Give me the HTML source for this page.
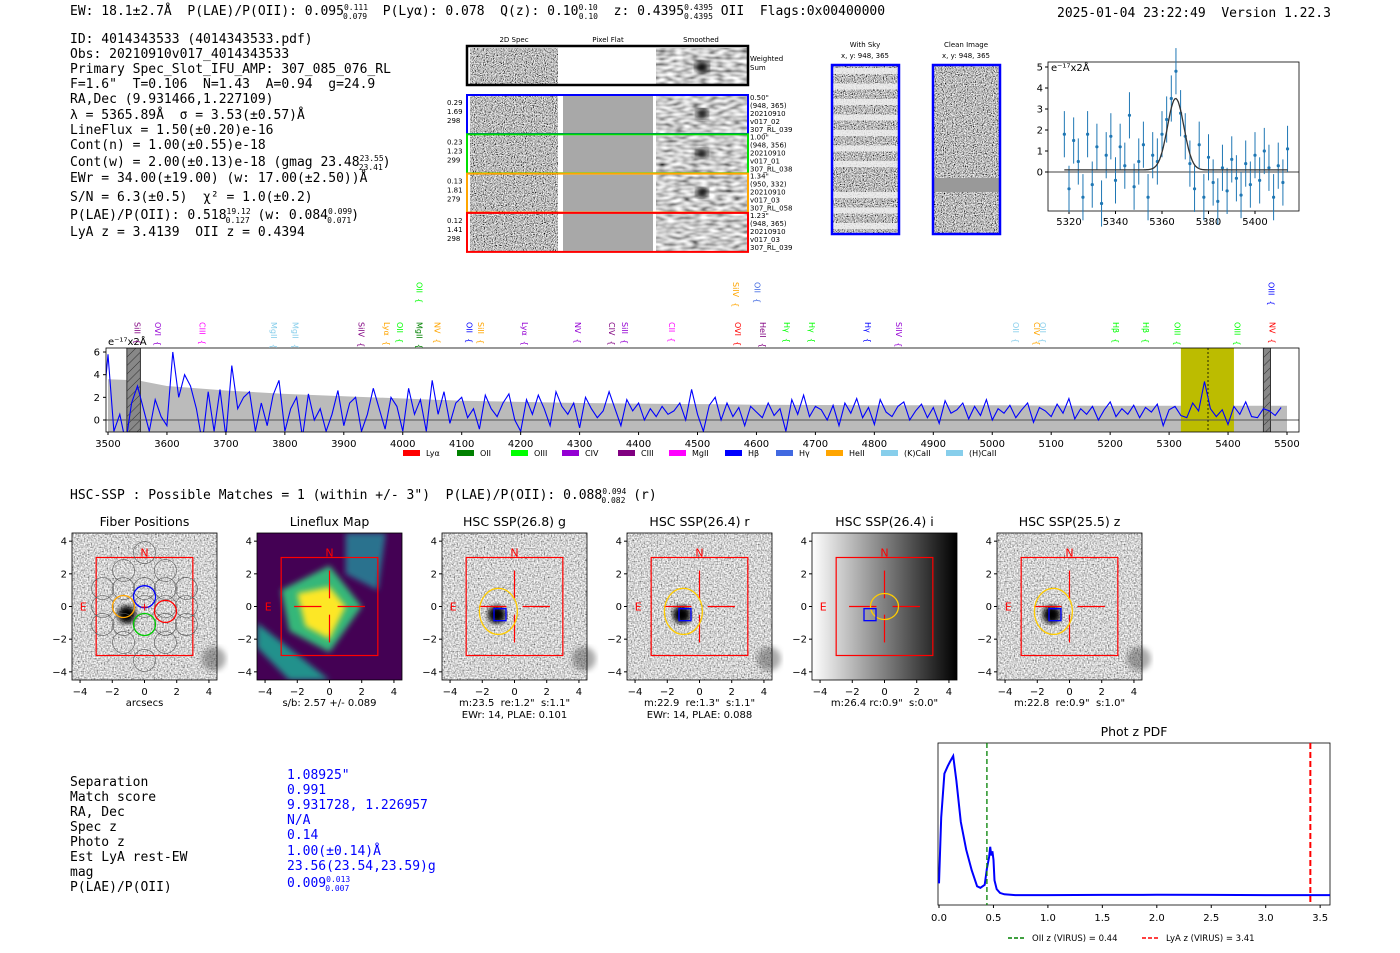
<!DOCTYPE html>
<html><head><meta charset="utf-8">
<style>
html,body{margin:0;padding:0;background:#fff;}
svg{display:block;font-family:"DejaVu Sans","Liberation Sans",sans-serif;}
text{white-space:pre;}
.mono{font-family:"DejaVu Sans Mono","Liberation Mono",monospace;font-size:13px;fill:#000;}
.tk{font-size:10px;fill:#000;}
.sm{font-size:7px;fill:#000;}
</style></head>
<body>
<svg id="fig" width="1400" height="953" viewBox="0 0 1400 953" xml:space="preserve">
<defs>
<filter id="gnoise" x="0" y="0" width="100%" height="100%"><feTurbulence type="fractalNoise" baseFrequency="0.9" numOctaves="1" seed="7" result="t"/><feColorMatrix in="t" type="saturate" values="0"/><feComponentTransfer><feFuncR type="linear" slope="3" intercept="-1"/><feFuncG type="linear" slope="3" intercept="-1"/><feFuncB type="linear" slope="3" intercept="-1"/><feFuncA type="table" tableValues="1 1"/></feComponentTransfer></filter>
<filter id="inoise" x="0" y="0" width="100%" height="100%"><feTurbulence type="fractalNoise" baseFrequency="0.7" numOctaves="1" seed="5" result="t"/><feColorMatrix in="t" type="saturate" values="0"/><feComponentTransfer><feFuncR type="linear" slope="2.2" intercept="-0.45"/><feFuncG type="linear" slope="2.2" intercept="-0.45"/><feFuncB type="linear" slope="2.2" intercept="-0.45"/><feFuncA type="table" tableValues="1 1"/></feComponentTransfer></filter>
<filter id="snoise" x="0" y="0" width="100%" height="100%"><feTurbulence type="fractalNoise" baseFrequency="0.12 0.3" numOctaves="1" seed="11" result="t"/><feColorMatrix in="t" type="saturate" values="0"/><feComponentTransfer><feFuncR type="linear" slope="2" intercept="-0.4"/><feFuncG type="linear" slope="2" intercept="-0.4"/><feFuncB type="linear" slope="2" intercept="-0.4"/><feFuncA type="table" tableValues="1 1"/></feComponentTransfer></filter>
<filter id="blur4"><feGaussianBlur stdDeviation="3"/></filter>
<filter id="blur8"><feGaussianBlur stdDeviation="7"/></filter>
<pattern id="hatch" width="6" height="6" patternUnits="userSpaceOnUse" patternTransform="rotate(45)"><rect width="6" height="6" fill="#888"/><line x1="0" y1="0" x2="0" y2="6" stroke="#333" stroke-width="1"/></pattern>
<linearGradient id="grad-i" x1="0" x2="1" y1="0" y2="0"><stop offset="0" stop-color="#fff"/><stop offset="1" stop-color="#000"/></linearGradient>
</defs>

<text class="mono" x="70" y="15">EW: 18.1±2.7Å  P(LAE)/P(OII): 0.095<tspan font-size="8" dy="-5">0.111</tspan><tspan font-size="8" dx="-25" dy="9">0.079</tspan><tspan dy="-4">  P(Lyα): 0.078  Q(z): 0.10</tspan><tspan font-size="8" dy="-5">0.10</tspan><tspan font-size="8" dx="-19" dy="9">0.10</tspan><tspan dy="-4">  z: 0.4395</tspan><tspan font-size="8" dy="-5">0.4395</tspan><tspan font-size="8" dx="-29" dy="9">0.4395</tspan><tspan dy="-4"> OII  Flags:0x00400000</tspan></text>
<text class="mono" x="1057" y="17">2025-01-04 23:22:49  Version 1.22.3</text>

<g class="mono">
<text x="70" y="43">ID: 4014343533 (4014343533.pdf)</text>
<text x="70" y="58">Obs: 20210910v017_4014343533</text>
<text x="70" y="73">Primary Spec_Slot_IFU_AMP: 307_085_076_RL</text>
<text x="70" y="88">F=1.6"  T=0.106  N=1.43  A=0.94  g=24.9</text>
<text x="70" y="103">RA,Dec (9.931466,1.227109)</text>
<text x="70" y="119">λ = 5365.89Å  σ = 3.53(±0.57)Å</text>
<text x="70" y="134">LineFlux = 1.50(±0.20)e-16</text>
<text x="70" y="149">Cont(n) = 1.00(±0.55)e-18</text>
<text x="70" y="166">Cont(w) = 2.00(±0.13)e-18 (gmag 23.48<tspan font-size="8" dy="-5">23.55</tspan><tspan font-size="8" dx="-25" dy="9">23.41</tspan><tspan dy="-4">)</tspan></text>
<text x="70" y="182">EWr = 34.00(±19.00) (w: 17.00(±2.50))Å</text>
<text x="70" y="201">S/N = 6.3(±0.5)  χ² = 1.0(±0.2)</text>
<text x="70" y="219">P(LAE)/P(OII): 0.518<tspan font-size="8" dy="-5">19.12</tspan><tspan font-size="8" dx="-25" dy="9">0.127</tspan><tspan dy="-4"> (w: 0.084</tspan><tspan font-size="8" dy="-5">0.099</tspan><tspan font-size="8" dx="-25" dy="9">0.071</tspan><tspan dy="-4">)</tspan></text>
<text x="70" y="236">LyA z = 3.4139  OII z = 0.4394</text>
</g>

<g>
<text class="sm" x="514" y="42" text-anchor="middle">2D Spec</text>
<text class="sm" x="608" y="42" text-anchor="middle">Pixel Flat</text>
<text class="sm" x="701" y="42" text-anchor="middle">Smoothed</text>
<rect x="470" y="48" width="88" height="36" fill="#888" filter="url(#gnoise)"/>
<rect x="656" y="48" width="92" height="36" fill="#777" filter="url(#snoise)"/>
<ellipse cx="702" cy="67" rx="7" ry="6" fill="#111" filter="url(#blur4)"/>
<rect x="467" y="46" width="281" height="39" fill="none" stroke="#000" stroke-width="2.5"/>
<text class="sm" x="750" y="61">Weighted</text><text class="sm" x="750" y="70">Sum</text>
<g id="rows"></g>
</g>

<g>
<text class="sm" x="865" y="47" text-anchor="middle" font-size="9">With Sky</text>
<text class="sm" x="865" y="58" text-anchor="middle" font-size="9">x, y: 948, 365</text>
<rect x="832" y="65" width="67" height="169" fill="#888" filter="url(#gnoise)"/>
<g id="skystripes"></g>
<rect x="832" y="65" width="67" height="169" fill="none" stroke="#00f" stroke-width="2.5"/>
</g>
<g>
<text class="sm" x="966" y="47" text-anchor="middle" font-size="9">Clean Image</text>
<text class="sm" x="966" y="58" text-anchor="middle" font-size="9">x, y: 948, 365</text>
<rect x="933" y="65" width="67" height="169" fill="#888" filter="url(#gnoise)"/>
<rect x="933" y="178" width="67" height="14" fill="#999"/>
<rect x="933" y="65" width="67" height="169" fill="none" stroke="#00f" stroke-width="2.5"/>
</g>

<g id="linefit"></g>
<g id="spec"></g>

<text class="mono" x="70" y="499">HSC-SSP : Possible Matches = 1 (within +/- 3")  P(LAE)/P(OII): 0.088<tspan font-size="8" dy="-5">0.094</tspan><tspan font-size="8" dx="-25" dy="9">0.082</tspan><tspan dy="-4"> (r)</tspan></text>

<g id="panels"></g>

<g class="mono">
<text x="70" y="786">Separation</text><text x="70" y="801">Match score</text><text x="70" y="816">RA, Dec</text><text x="70" y="831">Spec z</text><text x="70" y="846">Photo z</text><text x="70" y="861">Est LyA rest-EW</text><text x="70" y="876">mag</text><text x="70" y="891">P(LAE)/P(OII)</text>
</g>
<g class="mono">
<text x="287" y="779" fill="#00f">1.08925"</text><text x="287" y="794" fill="#00f">0.991</text><text x="287" y="809" fill="#00f">9.931728, 1.226957</text><text x="287" y="824" fill="#00f">N/A</text><text x="287" y="839" fill="#00f">0.14</text><text x="287" y="855" fill="#00f">1.00(±0.14)Å</text><text x="287" y="870" fill="#00f">23.56(23.54,23.59)g</text><text x="287" y="887" fill="#00f">0.009<tspan font-size="8" dy="-5">0.013</tspan><tspan font-size="8" dx="-25" dy="9">0.007</tspan></text>
</g>

<g id="pdf"></g>

<script>
const specWaveStart = 3490, specWaveStep = 10;
const specFlux = [0,5.8,-1,0.5,-2,1.5,3,1,-1,1.8,0.3,-0.5,6,2,4,3,1,-2,2.5,-1,2.7,-1.5,4.8,1,2,2.5,-1,1.5,-0.5,2.2,
 3.5,-1,1,2,-1.5,2.3,0,1,-1,0.5,2.6,-0.5,1.5,2,-1,0.5,2.8,1,-0.8,2,1.2,-1,2.8,0.5,1.8,-1,3.5,0.5,2.5,-0.3,
 1.5,2,0.2,1,-0.8,2.2,1,0.3,1.5,2.3,0,-1,1.8,0.5,2.2,1,-0.5,2.5,1.2,0.5,1.5,-0.7,2,1,0.2,0.8,2.5,1,-0.5,1.8,
 0.8,1.5,0,1,0.3,1.2,0.5,0.8,1.5,0,2.7,0.5,-1,1.3,2,0,1.5,0.3,1.1,-0.5,1.2,0.7,0.2,1.5,0.4,1,-1,1.8,0.5,2.2,
 0.3,1.2,0.9,0,1.3,-0.5,1.5,0.6,1.9,0.2,1.1,-0.4,1.8,0.7,0.3,1.2,1.6,0,0.8,1.4,0.2,1.1,-0.3,1.7,0.6,0.9,1.5,0.1,
 1.2,0.4,1.8,0,1,0.6,1.3,0.2,0.9,1.5,-0.2,1.1,0.8,0.3,1.4,0.6,1.9,0.1,1,0.5,1.2,0,0.9,1.6,0.3,1,0.5,1.3,0.2,1.1,
 0.7,1.4,-0.5,0.9,1.2,0.4,0.2,1.5,0.8,3.4,1,0.3,0.9,-0.4,1.2,0.5,1.6,0.3,0.2,1,0.8,0.4,1.1];
const errWave = [3500,3550,3600,3650,3700,3800,3900,4000,4100,4200,4300,4400,4500,4520,4600,4800,5000,5200,5400,5500];
const errVal  = [3.6,3.5,3.0,2.8,2.6,2.3,2.1,1.9,1.7,1.6,1.5,1.45,1.4,1.4,1.35,1.3,1.3,1.25,1.25,1.25];
const spTicks = [3500,3600,3700,3800,3900,4000,4100,4200,4300,4400,4500,4600,4700,4800,4900,5000,5100,5200,5300,5400,5500];
const lineLabels = [["SiII",3550,"#800080",0],["OVI",3585,"#9400d3",0],["CIII",3660,"#ff00ff",0],["MgII",3782,"#87ceeb",0],["MgII",3818,"#87ceeb",0],["SiIV",3930,"#800080",0],["Lyα",3973,"#ffa500",0],["OII",3995,"#00ff00",0],["MgII",4028,"#008000",0],["NV",4059,"#ffa500",0],["OII",4113,"#0000ff",0],["SiII",4133,"#ffa500",0],["Lyα",4207,"#9400d3",0],["NV",4297,"#9400d3",0],["CIV",4355,"#800080",0],["SiII",4377,"#9400d3",0],["CII",4457,"#ff00ff",0],["OVI",4569,"#ff0000",0],["HeII",4611,"#800080",0],["Hγ",4652,"#00ff00",0],["Hγ",4694,"#00ff00",0],["Hγ",4789,"#0000ff",0],["SiIV",4842,"#9400d3",0],["OII",5040,"#87ceeb",0],["CIV",5076,"#ffa500",0],["OII",5086,"#87ceeb",0],["Hβ",5210,"#00ff00",0],["Hβ",5261,"#00ff00",0],["OIII",5314,"#00ff00",0],["OIII",5416,"#00ff00",0],["NV",5475,"#ff0000",0],
 ["OII",4028,"#00ff00",1],["SiIV",4565,"#ffa500",1],["OII",4602,"#4169e1",1],["OIII",5474,"#0000ff",1]];
const legendNames = ["Lyα","OII","OIII","CIV","CIII","MgII","Hβ","Hγ","HeII","(K)CaII","(H)CaII"];
const legendColors = ["#ff0000","#008000","#00ff00","#9400d3","#800080","#ff00ff","#0000ff","#4169e1","#ffa500","#87ceeb","#87ceeb"];

const fitWave = [5318,5320,5322,5324,5326,5328,5330,5332,5334,5336,5338,5340,5342,5344,5346,5348,5350,5352,5354,5356,5358,5360,5362,5364,5366,5368,5370,5372,5374,5376,5378,5380,5382,5384,5386,5388,5390,5392,5394,5396,5398,5400,5402,5404,5406,5408,5410,5412,5414];
const fitFlux = [1.8,-0.8,1.5,0.5,-1.2,1.8,-0.6,1.2,-1.5,0.8,1.7,-0.4,1.2,0.3,2.7,-0.7,0.5,1.3,-1.2,0.8,0.5,1.8,2.5,3.5,4.8,2.8,1.7,0.4,-0.8,1.3,-1.2,0.7,-0.5,-1.4,0.2,-0.9,0.6,-0.3,-1.1,0.4,-0.6,0.8,-0.4,1,0.2,-1.2,0.3,-0.5,1.1];
const fitErr = 1.1;
const fitCenter = 5365.89, fitSigma = 3.53, fitAmp = 3.4, fitCont = 0.1;
const fitTicks = [5320,5340,5360,5380,5400];

const pdfZ = [0,0.02,0.05,0.08,0.1,0.13,0.16,0.2,0.25,0.3,0.35,0.38,0.42,0.44,0.46,0.47,0.48,0.49,0.5,0.51,0.53,0.56,0.6,0.7,1,1.5,2,2.5,3,3.5,3.6];
const pdfP = [0.1,0.55,0.85,0.9,0.93,0.97,0.8,0.52,0.33,0.19,0.08,0.07,0.09,0.2,0.28,0.35,0.29,0.32,0.26,0.12,0.06,0.035,0.025,0.02,0.02,0.021,0.022,0.021,0.02,0.02,0.02];
const pdfTicks = [0,0.5,1,1.5,2,2.5,3,3.5];
const zOII = 0.44, zLyA = 3.41;

const panelTitles = ["Fiber Positions","Lineflux Map","HSC SSP(26.8) g","HSC SSP(26.4) r","HSC SSP(26.4) i","HSC SSP(25.5) z"];
const panelCaps = [["arcsecs"],["s/b: 2.57 +/- 0.089"],['m:23.5  re:1.2"  s:1.1"',"EWr: 14, PLAE: 0.101"],['m:22.9  re:1.3"  s:1.1"',"EWr: 14, PLAE: 0.088"],['m:26.4 rc:0.9"  s:0.0"'],['m:22.8  re:0.9"  s:1.0"']];
const panelTicks = [-4,-2,0,2,4];

const NS="http://www.w3.org/2000/svg";
function mk(tag,attrs,parent,txt){const e=document.createElementNS(NS,tag);for(const k in attrs)e.setAttribute(k,attrs[k]);if(txt!==undefined)e.textContent=txt;parent.appendChild(e);return e;}

(function(){
 const g=document.getElementById('rows');
 const cols=["#0000ff","#00dd00","#ffa500","#ff0000"];
 const nums=[["0.29","1.69","298"],["0.23","1.23","299"],["0.13","1.81","279"],["0.12","1.41","298"]];
 const info=[['0.50"',"(948, 365)","20210910","v017_02","307_RL_039"],['1.00"',"(948, 356)","20210910","v017_01","307_RL_038"],['1.34"',"(950, 332)","20210910","v017_03","307_RL_058"],['1.23"',"(948, 365)","20210910","v017_03","307_RL_039"]];
 for(let i=0;i<4;i++){
  const y=95+i*39.3;
  const r=mk('g',{},g);
  
  
  mk('rect',{x:470,y:y+1,width:88,height:37,fill:'#888',filter:'url(#gnoise)'},r);
  mk('rect',{x:563,y:y+1,width:90,height:37,fill:'#a8a8a8'},r);
  mk('rect',{x:656,y:y+1,width:92,height:37,fill:'#777',filter:'url(#snoise)'},r);
  if(i<3) mk('ellipse',{cx:702,cy:y+19,rx:6,ry:5,fill:'#111',filter:'url(#blur4)'},r);
  mk('rect',{x:467,y:y,width:281,height:39,fill:'none',stroke:cols[i],'stroke-width':2},r);
  nums[i].forEach((t,k)=>mk('text',{class:'sm',x:447,y:y+10+k*9},r,t));
  info[i].forEach((t,k)=>mk('text',{class:'sm','font-size':'6',x:750,y:y+5+k*8},r,t));
 }
 const s=document.getElementById('skystripes');
 for(let k=0;k<11;k++){ if(k==7) continue; mk('rect',{x:833,y:68+k*15.5,width:65,height:6,fill:'#eee',opacity:0.85},s);}
})();

(function(){
 const g=document.getElementById('linefit');
 const L=1048,R=1299,T=62,B=211;
 const xs=w=>1069+(w-5320)*(186/80), ys=v=>172-v*21;
 mk('rect',{x:L,y:T,width:R-L,height:B-T,fill:'#fff',stroke:'#000','stroke-width':0.8},g);
 mk('line',{x1:L,x2:R,y1:ys(0),y2:ys(0),stroke:'#000','stroke-width':0.8},g);
 [0,1,2,3,4,5].forEach(v=>{mk('line',{x1:L-3,x2:L,y1:ys(v),y2:ys(v),stroke:'#000'},g);mk('text',{class:'tk',x:L-5,y:ys(v)+3.5,'text-anchor':'end'},g,v);});
 fitTicks.forEach(w=>{mk('line',{x1:xs(w),x2:xs(w),y1:B,y2:B+3,stroke:'#000'},g);mk('text',{class:'tk',x:xs(w),y:B+14,'text-anchor':'middle'},g,w);});
 mk('text',{class:'tk',x:L+3,y:T+9},g,'e⁻¹⁷x2Å');
 fitWave.forEach((w,i)=>{const x=xs(w),y=ys(fitFlux[i]);
  const e=mk('line',{x1:x,x2:x,y1:ys(fitFlux[i]+fitErr),y2:ys(fitFlux[i]-fitErr),stroke:'#1f77b4','stroke-width':1},g);
  
  const c=mk('circle',{cx:x,cy:y,r:1.6,fill:'#1f77b4'},g);
  });
 let d='';for(let w=5318;w<=5414;w+=0.5){const v=fitCont+fitAmp*Math.exp(-0.5*((w-fitCenter)/fitSigma)**2);d+=(d?'L':'M')+xs(w).toFixed(1)+','+ys(v).toFixed(1);}
 const p=mk('path',{d:d,fill:'none',stroke:'#333','stroke-width':1.3},g);
 
})();

(function(){
 const g=document.getElementById('spec');
 const L=106,R=1299,T=348,B=432;
 const xs=w=>108+(w-3500)*(1179/2000), ys=v=>420-v*11.33;
 mk('rect',{x:L,y:T,width:R-L,height:B-T,fill:'#fff'},g);
 const cp=mk('clipPath',{id:'spclip'},g);mk('rect',{x:L,y:T,width:R-L,height:B-T},cp);
 const inner=mk('g',{'clip-path':'url(#spclip)'},g);
 let d='M'+xs(errWave[0])+','+ys(-errVal[0]);
 errWave.forEach((w,i)=>d+='L'+xs(w).toFixed(1)+','+ys(errVal[i]).toFixed(1));
 for(let i=errWave.length-1;i>=0;i--) d+='L'+xs(errWave[i]).toFixed(1)+','+ys(-errVal[i]).toFixed(1);
 const ep=mk('path',{d:d+'Z',fill:'#bbb'},inner);
 
 const yb=mk('rect',{x:xs(5320),y:T,width:xs(5410)-xs(5320),height:B-T,fill:'#bcbc00'},inner);
 
 mk('rect',{x:xs(3532),y:T,width:xs(3555)-xs(3532),height:B-T,fill:'url(#hatch)',stroke:'#333'},inner);
 mk('rect',{x:xs(5460),y:T,width:xs(5472)-xs(5460),height:B-T,fill:'url(#hatch)',stroke:'#333'},inner);
 mk('line',{x1:L,x2:R,y1:ys(0),y2:ys(0),stroke:'#555','stroke-width':1},inner);
 mk('line',{x1:xs(5366),x2:xs(5366),y1:T,y2:B,stroke:'#000','stroke-dasharray':'2,2','stroke-width':0.8},inner);
 let s='';specFlux.forEach((v,i)=>{const w=specWaveStart+i*specWaveStep;s+=(s?'L':'M')+xs(w).toFixed(1)+','+ys(v).toFixed(1);});
 const sp=mk('path',{d:s,fill:'none',stroke:'#0000ff','stroke-width':1.1},inner);
 
 mk('rect',{x:L,y:T,width:R-L,height:B-T,fill:'none',stroke:'#000','stroke-width':0.8},g);
 [0,2,4,6].forEach(v=>{mk('line',{x1:L-3,x2:L,y1:ys(v),y2:ys(v),stroke:'#000'},g);mk('text',{class:'tk',x:L-6,y:ys(v)+3.5,'text-anchor':'end'},g,v);});
 spTicks.forEach(w=>{mk('line',{x1:xs(w),x2:xs(w),y1:B,y2:B+3,stroke:'#000'},g);mk('text',{class:'tk',x:xs(w),y:B+15,'text-anchor':'middle'},g,w);});
 mk('text',{class:'tk',x:108,y:345},g,'e⁻¹⁷x2Å');
 lineLabels.forEach(l=>{const x=xs(l[1]);const y=l[3]?282:322;
  const t=mk('text',{x:x-3,y:y,fill:l[2],'font-size':'8',transform:'rotate(90 '+(x-3)+' '+y+')'},g,l[0]+'  {');
  });
 const lg=mk('g',{},g);
 const lx=[403,457,511,562,618,669,725,776,826,881,946];
 legendNames.forEach((n,i)=>{mk('rect',{x:lx[i],y:450,width:17,height:6,fill:legendColors[i]},lg);mk('text',{x:lx[i]+23,y:456,'font-size':'8'},lg,n);});
})();

(function(){
 const g=document.getElementById('panels');
 const lefts=[72,257,442,627,812,997];
 for(let p=0;p<6;p++){
  const L=lefts[p],T=533,W=145,H=147;
  const xs=v=>L+(v+4.5)*(W/9), ys=v=>T+(4.5-v)*(H/9);
  const pg=mk('g',{},g);
  
  
  if(p==1){
   const cp=mk('clipPath',{id:'lfclip'},pg);mk('rect',{x:L,y:T,width:W,height:H},cp);
   const lg=mk('g',{'clip-path':'url(#lfclip)'},pg);
   mk('rect',{x:L,y:T,width:W,height:H,fill:'#440154'},lg);
   mk('polygon',{points:[[xs(-4.5),ys(-2.5)],[xs(-2.5),ys(-4.5)],[xs(0),ys(-4.5)],[xs(-4.5),ys(-1)]].map(a=>a.join(',')).join(' '),fill:'#21918c',filter:'url(#blur4)'},lg);
   mk('polygon',{points:[[xs(1),ys(4.5)],[xs(3.5),ys(4.5)],[xs(3),ys(1)],[xs(1),ys(2)]].map(a=>a.join(',')).join(' '),fill:'#2c728e',filter:'url(#blur4)'},lg);
   mk('polygon',{points:[[xs(-3),ys(1)],[xs(0),ys(2.5)],[xs(2),ys(0)],[xs(0),ys(-2.8)],[xs(-2.5),ys(-1.5)]].map(a=>a.join(',')).join(' '),fill:'#35b779',filter:'url(#blur4)'},lg);
   mk('polygon',{points:[[xs(-2),ys(0.8)],[xs(0),ys(1.2)],[xs(1),ys(0)],[xs(0),ys(-2)],[xs(-1.5),ys(-1.2)]].map(a=>a.join(',')).join(' '),fill:'#fde725',filter:'url(#blur4)'},lg);
  }
  else if(p==4){mk('rect',{x:L,y:T,width:W,height:H,fill:'url(#grad-i)'},pg);}
  else{mk('rect',{x:L,y:T,width:W,height:H,fill:'#999',filter:'url(#inoise)'},pg);
   mk('circle',{cx:xs(-1.1),cy:ys(-0.5),r:9,fill:'#000',filter:'url(#blur4)'},pg);
   mk('circle',{cx:xs(4.3),cy:ys(-3.2),r:12,fill:'#555',opacity:0.5,filter:'url(#blur4)'},pg);}
  mk('rect',{x:L,y:T,width:W,height:H,fill:'none',stroke:'#000','stroke-width':0.8},pg);
  mk('rect',{x:xs(-3),y:ys(3),width:xs(3)-xs(-3),height:ys(-3)-ys(3),fill:'none',stroke:'#f00','stroke-width':1.2},pg);
  mk('text',{x:xs(0),y:ys(3.3)+4,fill:'#f00','font-size':'11','text-anchor':'middle'},pg,'N');
  mk('text',{x:xs(-3.8),y:ys(0)+4,fill:'#f00','font-size':'11','text-anchor':'middle'},pg,'E');
  if(p==0){
   const ctr=[[0,0],[-1.3,0],[1.3,0],[0,1.1],[0,-1.1],[-1.3,2.2],[1.3,2.2],[0,3.3],[-2.6,1.1],[2.6,1.1],[-2.6,-1.1],[2.6,-1.1],[-1.3,-2.2],[1.3,-2.2],[0,-3.3],[-1.3,1.1],[1.3,1.1],[-1.3,-1.1],[1.3,-1.1],[-2.6,0],[2.6,0]];
   ctr.forEach(c=>mk('circle',{cx:xs(c[0]),cy:ys(c[1]),r:11,fill:'none',stroke:'#555','stroke-width':0.6},pg));
   [[0,0.6,'#00f'],[-1.3,0,'#ffa500'],[1.3,-0.3,'#f00'],[0,-1.1,'#0c0']].forEach(c=>mk('circle',{cx:xs(c[0]),cy:ys(c[1]),r:11,fill:'none',stroke:c[2],'stroke-width':1.3},pg));
   mk('text',{x:xs(0),y:ys(0)+4,fill:'#f00','font-size':'11','text-anchor':'middle'},pg,'+');
  } else {
   [[[-2.2,0],[-0.5,0]],[[0.5,0],[2.2,0]],[[0,2.2],[0,0.5]],[[0,-0.5],[0,-2.2]]].forEach(s=>mk('line',{x1:xs(s[0][0]),y1:ys(s[0][1]),x2:xs(s[1][0]),y2:ys(s[1][1]),stroke:'#f00','stroke-width':1.2},pg));
   if(p>=2){const ex=p==4?0:-1, ey=p==4?0:-0.3;
    mk('ellipse',{cx:xs(ex),cy:ys(ey),rx:p==4?14:19,ry:p==4?13:23,fill:'none',stroke:'#fc0','stroke-width':1.3},pg);
    mk('rect',{x:xs(-0.9)-6,y:ys(-0.5)-6,width:12,height:12,fill:'none',stroke:'#00f','stroke-width':1.3},pg);}
  }
  mk('text',{x:L+W/2,y:526,'font-size':'12.5','text-anchor':'middle'},pg,panelTitles[p]);
  panelTicks.forEach(v=>{
   mk('line',{x1:xs(v),x2:xs(v),y1:T+H,y2:T+H+3,stroke:'#000'},pg);
   mk('text',{class:'tk',x:xs(v),y:T+H+15,'text-anchor':'middle'},pg,v<0?'−'+(-v):v);
   mk('line',{x1:L-3,x2:L,y1:ys(v),y2:ys(v),stroke:'#000'},pg);
   mk('text',{class:'tk',x:L-5,y:ys(v)+3.5,'text-anchor':'end'},pg,v<0?'−'+(-v):v);});
  panelCaps[p].forEach((c,k)=>mk('text',{x:L+W/2,y:706+k*12,'font-size':'10','text-anchor':'middle'},pg,c));
 }
})();

(function(){
 const g=document.getElementById('pdf');
 const L=938,R=1330,T=743,B=905;
 const xs=z=>939+z*108.9, ys=p=>B-7-p*(B-T-20)/0.97;
 mk('rect',{x:L,y:T,width:R-L,height:B-T,fill:'#fff',stroke:'#000','stroke-width':0.8},g);
 mk('text',{x:(L+R)/2,y:736,'font-size':'12.5','text-anchor':'middle'},g,'Phot z PDF');
 let d='';pdfZ.forEach((z,i)=>d+=(d?'L':'M')+xs(z).toFixed(1)+','+ys(pdfP[i]).toFixed(1));
 const cp=mk('clipPath',{id:'pclip'},g);mk('rect',{x:L,y:T,width:R-L,height:B-T},cp);
 const pl=mk('path',{d:d,fill:'none',stroke:'#0000ff','stroke-width':2,'clip-path':'url(#pclip)'},g);
 
 const l1=mk('line',{x1:xs(zOII),x2:xs(zOII),y1:T,y2:B,stroke:'#008000','stroke-width':1.3,'stroke-dasharray':'5,3'},g);
 
 const l2=mk('line',{x1:xs(zLyA),x2:xs(zLyA),y1:T,y2:B,stroke:'#ff0000','stroke-width':2,'stroke-dasharray':'6,3'},g);
 
 pdfTicks.forEach(z=>{mk('line',{x1:xs(z),x2:xs(z),y1:B,y2:B+3,stroke:'#000'},g);mk('text',{class:'tk',x:xs(z),y:B+16,'text-anchor':'middle'},g,z.toFixed(1));});
 const lg=mk('g',{},g);
 mk('line',{x1:1008,x2:1024,y1:938,y2:938,stroke:'#008000','stroke-width':1.5,'stroke-dasharray':'4,2'},lg);
 mk('text',{x:1032,y:941,'font-size':'8.5'},lg,'OII z (VIRUS) = 0.44');
 mk('line',{x1:1142,x2:1158,y1:938,y2:938,stroke:'#ff0000','stroke-width':1.5,'stroke-dasharray':'4,2'},lg);
 mk('text',{x:1166,y:941,'font-size':'8.5'},lg,'LyA z (VIRUS) = 3.41');
})();
</script>
</svg>
</body></html>
